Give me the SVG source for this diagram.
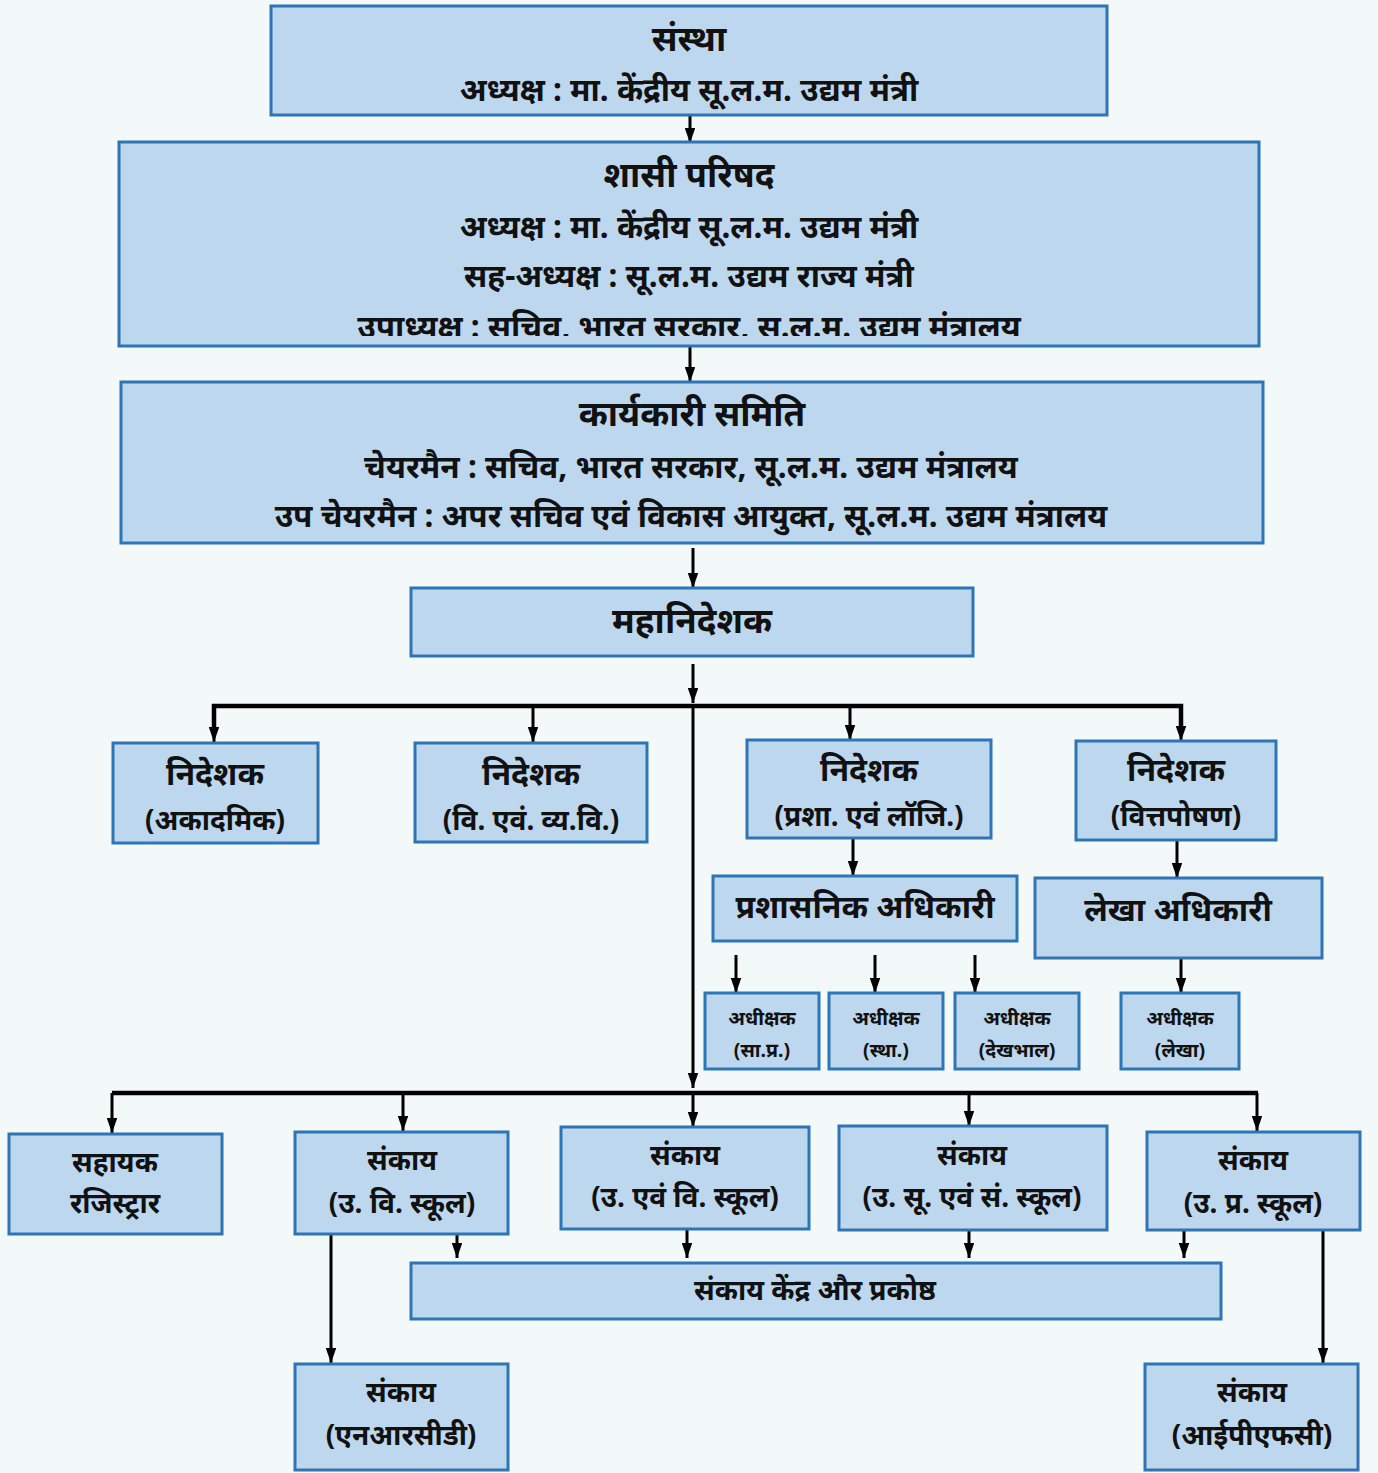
<svg xmlns="http://www.w3.org/2000/svg" width="1378" height="1473" viewBox="0 0 1378 1473">
<defs>
<marker id="ah" viewBox="0 0 10 7" refX="10" refY="3.5" markerWidth="5" markerHeight="3.5" markerUnits="strokeWidth" orient="auto"><path d="M0,0 L10,3.5 L0,7 z" fill="#000"/></marker>
<clipPath id="c2"><rect x="120" y="143" width="1138" height="193"/></clipPath>
<style>
.b{fill:#bdd7ee;stroke:#2e75b6;stroke-width:3}
text{font-family:"Noto Sans","Noto Serif Devanagari","Lohit Devanagari",sans-serif;font-weight:bold;fill:#111;text-anchor:middle}
.t0{font-size:35px}
.t1{font-size:32px}
.t2{font-size:31.5px}
.t3{font-size:28px}
.t4{font-size:19.5px}
.bus{stroke:#000;stroke-width:4.5;fill:none}
.ar{stroke:#000;stroke-width:3;fill:none;marker-end:url(#ah)}
</style>
</defs>
<rect width="1378" height="1473" fill="#f3f8f8"/>
<g id="connectors">
<path class="ar" d="M690,115 V143"/>
<path class="ar" d="M690,346 V382"/>
<path class="ar" d="M693,548 V588"/>
<path class="ar" d="M693,664 V703"/>
<path class="bus" d="M214,730 V706 H1181 V730"/>
<path class="ar" d="M214,706 V742"/>
<path class="ar" d="M533,706 V742"/>
<path class="ar" d="M850,706 V740"/>
<path class="ar" d="M1181,706 V741"/>
<path class="ar" d="M693,706 V1088"/>
<path class="ar" d="M853,838 V876"/>
<path class="ar" d="M1177,840 V878"/>
<path class="ar" d="M736,955 V993"/>
<path class="ar" d="M875,955 V993"/>
<path class="ar" d="M975,955 V993"/>
<path class="ar" d="M1181,958 V993"/>
<path class="bus" d="M112,1093 H1258"/>
<path class="ar" d="M112,1093 V1133"/>
<path class="ar" d="M403,1093 V1131"/>
<path class="ar" d="M693,1093 V1127"/>
<path class="ar" d="M969,1093 V1126"/>
<path class="ar" d="M1257,1093 V1131"/>
<path class="ar" d="M457,1234 V1258"/>
<path class="ar" d="M687,1229 V1258"/>
<path class="ar" d="M969,1230 V1258"/>
<path class="ar" d="M1184,1230 V1258"/>
<path class="ar" d="M331,1234 V1363"/>
<path class="ar" d="M1323,1220 V1363"/>
</g>
<g id="n1"><rect class="b" x="271" y="6" width="836" height="109"/>
<text class="t0" x="689" y="51">संस्था</text>
<text class="t2" x="689" y="101">अध्यक्ष : मा. केंद्रीय सू.ल.म. उद्यम मंत्री</text></g>
<g id="n2"><rect class="b" x="119" y="142" width="1140" height="204"/>
<text class="t0" x="689" y="187">शासी परिषद</text>
<text class="t2" x="689" y="238">अध्यक्ष : मा. केंद्रीय सू.ल.म. उद्यम मंत्री</text>
<text class="t2" x="689" y="287">सह-अध्यक्ष : सू.ल.म. उद्यम राज्य मंत्री</text>
<text class="t2" x="689" y="338" clip-path="url(#c2)">उपाध्यक्ष : सचिव, भारत सरकार, सू.ल.म. उद्यम मंत्रालय</text></g>
<g id="n3"><rect class="b" x="121" y="382" width="1142" height="161"/>
<text class="t0" x="692" y="426">कार्यकारी समिति</text>
<text class="t2" x="691" y="478">चेयरमैन : सचिव, भारत सरकार, सू.ल.म. उद्यम मंत्रालय</text>
<text class="t2" x="691" y="527">उप चेयरमैन : अपर सचिव एवं विकास आयुक्त, सू.ल.म.  उद्यम मंत्रालय</text></g>
<g id="n4"><rect class="b" x="411" y="588" width="562" height="68"/>
<text class="t0" x="692" y="633">महानिदेशक</text></g>
<g id="n5"><rect class="b" x="113" y="743" width="205" height="100"/>
<text class="t1" x="215" y="785">निदेशक</text><text class="t3" x="215" y="830">(अकादमिक)</text></g>
<g id="n6"><rect class="b" x="415" y="743" width="232" height="99"/>
<text class="t1" x="531" y="785">निदेशक</text><text class="t3" x="531" y="830">(वि. एवं. व्य.वि.)</text></g>
<g id="n7"><rect class="b" x="747" y="740" width="244" height="98"/>
<text class="t1" x="869" y="781">निदेशक</text><text class="t3" x="869" y="826">(प्रशा. एवं लॉजि.)</text></g>
<g id="n8"><rect class="b" x="1076" y="741" width="200" height="99"/>
<text class="t1" x="1176" y="781">निदेशक</text><text class="t3" x="1176" y="826">(वित्तपोषण)</text></g>
<g id="n9"><rect class="b" x="713" y="876" width="304" height="65"/>
<text class="t1" x="865" y="918">प्रशासनिक अधिकारी</text></g>
<g id="n10"><rect class="b" x="1035" y="878" width="287" height="80"/>
<text class="t1" x="1178" y="921">लेखा अधिकारी</text></g>
<g id="n11"><rect class="b" x="705" y="993" width="114" height="76"/>
<text class="t4" x="762" y="1025">अधीक्षक</text><text class="t4" x="762" y="1057">(सा.प्र.)</text></g>
<g id="n12"><rect class="b" x="829" y="993" width="114" height="76"/>
<text class="t4" x="886" y="1025">अधीक्षक</text><text class="t4" x="886" y="1057">(स्था.)</text></g>
<g id="n13"><rect class="b" x="955" y="993" width="124" height="76"/>
<text class="t4" x="1017" y="1025">अधीक्षक</text><text class="t4" x="1017" y="1057">(देखभाल)</text></g>
<g id="n14"><rect class="b" x="1121" y="993" width="118" height="76"/>
<text class="t4" x="1180" y="1025">अधीक्षक</text><text class="t4" x="1180" y="1057">(लेखा)</text></g>
<g id="n15"><rect class="b" x="9" y="1134" width="213" height="100"/>
<text class="t3" x="115" y="1172">सहायक</text><text class="t3" x="115" y="1213">रजिस्ट्रार</text></g>
<g id="n16"><rect class="b" x="295" y="1132" width="213" height="102"/>
<text class="t3" x="402" y="1170">संकाय</text><text class="t3" x="402" y="1213">(उ. वि.  स्कूल)</text></g>
<g id="n17"><rect class="b" x="561" y="1127" width="248" height="102"/>
<text class="t3" x="685" y="1165">संकाय</text><text class="t3" x="685" y="1207">(उ. एवं वि. स्कूल)</text></g>
<g id="n18"><rect class="b" x="839" y="1126" width="268" height="104"/>
<text class="t3" x="972" y="1165">संकाय</text><text class="t3" x="972" y="1207">(उ. सू. एवं सं.  स्कूल)</text></g>
<g id="n19"><rect class="b" x="1147" y="1132" width="213" height="98"/>
<text class="t3" x="1253" y="1170">संकाय</text><text class="t3" x="1253" y="1213">(उ. प्र.  स्कूल)</text></g>
<g id="n20"><rect class="b" x="411" y="1263" width="810" height="56"/>
<text class="t3" x="815" y="1300">संकाय केंद्र और प्रकोष्ठ</text></g>
<g id="n21"><rect class="b" x="295" y="1364" width="213" height="106"/>
<text class="t3" x="401" y="1402">संकाय</text><text class="t3" x="401" y="1445">(एनआरसीडी)</text></g>
<g id="n22"><rect class="b" x="1145" y="1364" width="213" height="106"/>
<text class="t3" x="1252" y="1402">संकाय</text><text class="t3" x="1252" y="1445">(आईपीएफसी)</text></g>
</svg>
